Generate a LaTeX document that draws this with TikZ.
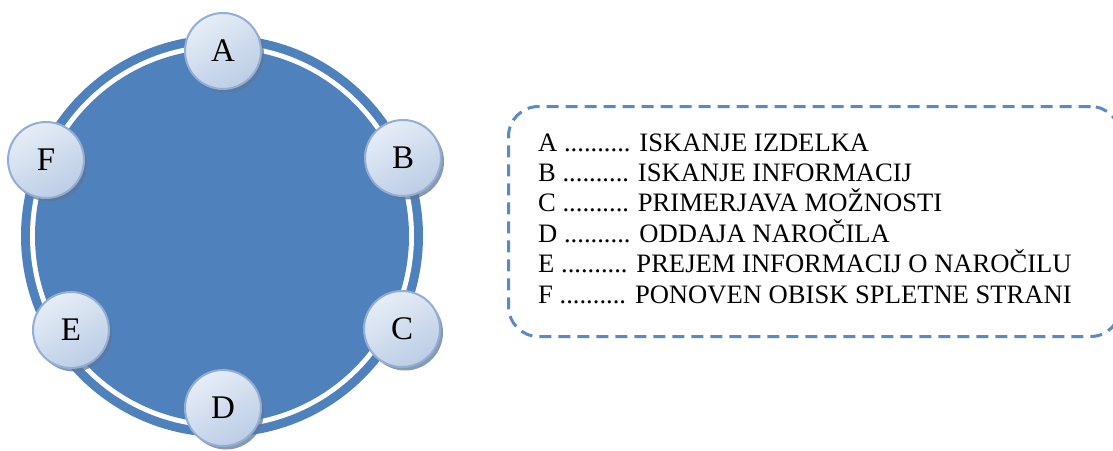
\documentclass[tikz,border=0pt]{standalone}
\usepackage{fontspec}
\setmainfont{Liberation Serif}
\usetikzlibrary{shadows}
\definecolor{ringblue}{HTML}{4F81BD}
\definecolor{dashblue}{HTML}{5A8AC6}
\definecolor{bubtop}{HTML}{E6EDF7}
\definecolor{bubbot}{HTML}{BCCDE5}
\definecolor{bubedge}{HTML}{92AED4}
\definecolor{bubshadow}{HTML}{5F7799}
\tikzset{
  bubble/.style={circle, minimum size=76pt, inner sep=0pt, draw=bubedge, line width=2pt,
    top color=bubtop, bottom color=bubbot, shading angle=30,
    drop shadow={shadow xshift=3pt, shadow yshift=-3.5pt, fill=bubshadow, opacity=0.75},
    font=\fontsize{33}{36}\selectfont},
  legend/.style={anchor=base west, inner sep=0pt, font=\fontsize{26.6}{30}\selectfont},
  legendbox/.style={draw=dashblue, line width=3pt, dash pattern=on 12pt off 7pt, rounded corners=30pt}
}
\begin{document}
\begin{tikzpicture}[x=1pt,y=-1pt]
\useasboundingbox (0,0) rectangle (1113,450);
\clip (0,0) rectangle (1113,450);
% ring
\fill[ringblue] (222,236) circle[radius=201];
\fill[white] (222,236) circle[radius=192];
\fill[ringblue] (222,236) circle[radius=187];
% bubbles
\node[bubble] (A) at (223,51) {A};
\node[bubble] (B) at (403,158) {B};
\node[bubble] (C) at (402,329) {C};
\node[bubble] (D) at (223,408) {D};
\node[bubble] (E) at (71,330) {E};
\node[bubble] (F) at (46,160) {F};
% legend box
\node[legendbox, minimum width=612pt, minimum height=230pt, anchor=north west] (box) at (507,105) {};
\node[legend] (l1) at (538,151) {A .......... ISKANJE IZDELKA};
\node[legend] (l2) at (538,181.4) {B .......... ISKANJE INFORMACIJ};
\node[legend] (l3) at (538,211.8) {C .......... PRIMERJAVA MOŽNOSTI};
\node[legend] (l4) at (538,242.2) {D .......... ODDAJA NAROČILA};
\node[legend] (l5) at (538,272.6) {E .......... PREJEM INFORMACIJ O NAROČILU};
\node[legend] (l6) at (538,303) {F .......... PONOVEN OBISK SPLETNE STRANI};
\end{tikzpicture}
\end{document}
